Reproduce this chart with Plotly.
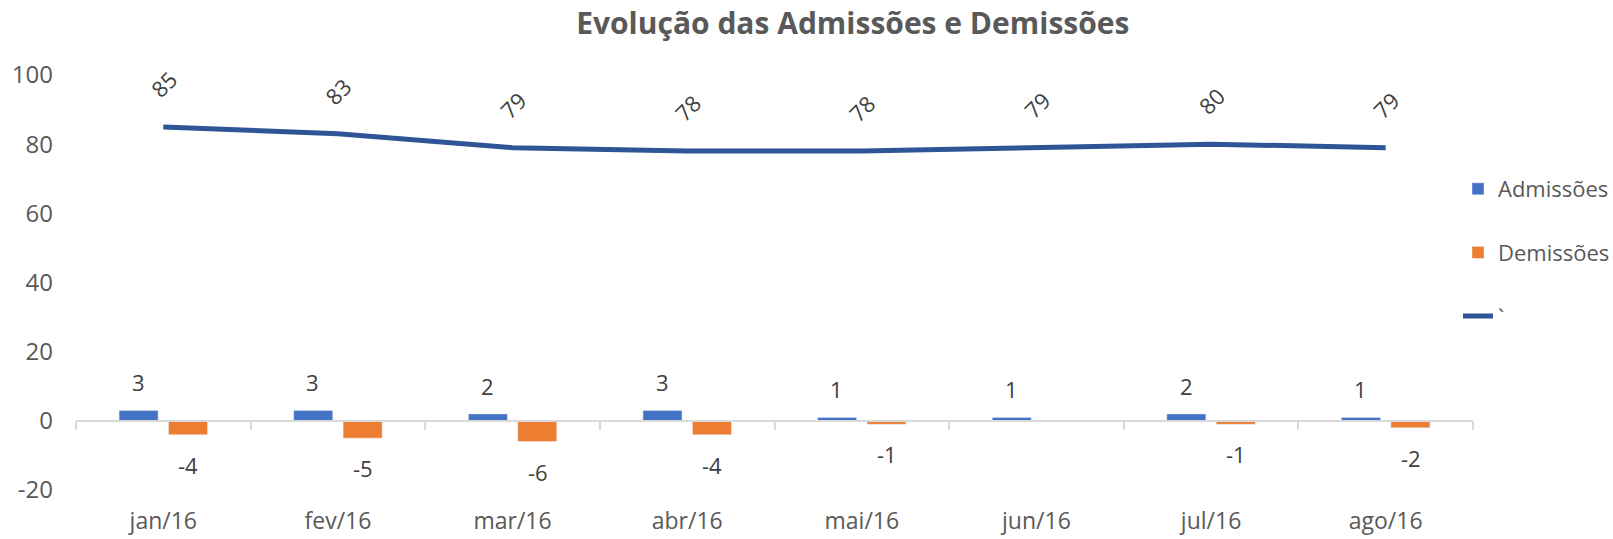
import plotly.graph_objects as go

months = ["jan/16", "fev/16", "mar/16", "abr/16", "mai/16", "jun/16", "jul/16", "ago/16"]
admissoes = [3, 3, 2, 3, 1, 1, 2, 1]
demissoes = [-4, -5, -6, -4, -1, None, -1, -2]
total = [85, 83, 79, 78, 78, 79, 80, 79]
y_ticks = [-20, 0, 20, 40, 60, 80, 100]
y_tick_labels = ["-20", "0", "20", "40", "60", "80", "100"]

FONT = "Open Sans"
C_ADM = "#4472C4"
C_DEM = "#ED7D31"
C_LINE = "#2F5597"
C_TXT = "#404040"
C_AX = "#595959"

W, H = 1613, 539
ML, MR, MT, MB = 76, 140, 75, 49
YMIN, YMAX = -20, 100

fig = go.Figure()
fig.add_trace(go.Bar(x=months, y=admissoes, name="Admissões", marker_color=C_ADM,
                     legendgroup="a"))
fig.add_trace(go.Bar(x=months, y=demissoes, name="Demissões", marker_color=C_DEM,
                     legendgroup="b"))
fig.add_trace(go.Scatter(x=months, y=total, name="`", mode="lines",
                         line=dict(color=C_LINE, width=5), xaxis="x2", yaxis="y",
                         legendgroup="c"))

ann = []
for m, a, d, t in zip(months, admissoes, demissoes, total):
    if a is not None:
        ann.append(dict(x=m, y=a, xref="x", yref="y", text=str(a), showarrow=False,
                        xshift=-25, yshift=28, font=dict(size=22, color=C_TXT, family=FONT)))
    if d is not None:
        ann.append(dict(x=m, y=d, xref="x", yref="y", text=str(d), showarrow=False,
                        xshift=25, yshift=-30, font=dict(size=22, color=C_TXT, family=FONT)))
    ann.append(dict(x=m, y=t, xref="x", yref="y", text=str(t), showarrow=False,
                    yshift=43, textangle=-45, font=dict(size=22, color=C_TXT, family=FONT)))

zero_pos = (0 - YMIN) / (YMAX - YMIN)

fig.update_layout(
    width=W, height=H,
    margin=dict(l=ML, r=MR, t=MT, b=MB, autoexpand=False),
    paper_bgcolor="white", plot_bgcolor="white",
    font=dict(family=FONT, color=C_AX, size=23),
    title=dict(text="<b>Evolução das Admissões e Demissões</b>", x=829 / 1568, xanchor="center",
               xref="container", y=1 - 23 / H, yanchor="middle",
               yref="container", font=dict(size=30, color=C_AX, family=FONT)),
    barmode="group", bargap=0.434, bargroupgap=0.21,
    xaxis=dict(type="category", categoryorder="array", categoryarray=months,
               range=[-0.5, 7.5], showline=False, showgrid=False, zeroline=False,
               ticks="", ticklabelstandoff=15,
               tickfont=dict(size=23, color=C_AX, family=FONT)),
    xaxis2=dict(type="category", categoryorder="array", categoryarray=months,
                range=[-0.5, 7.5], overlaying="x", anchor="free", position=zero_pos,
                side="bottom", showline=True, linecolor="#D9D9D9", linewidth=2,
                ticks="outside", tickson="boundaries", ticklen=8, tickwidth=2,
                tickcolor="#D9D9D9", showticklabels=False, showgrid=False, zeroline=False),
    yaxis=dict(range=[YMIN, YMAX], tickmode="array", tickvals=y_ticks, ticktext=y_tick_labels,
               showgrid=False, zeroline=False,
               showline=False, ticks="", ticklabelstandoff=22,
               tickfont=dict(size=24, color=C_AX, family=FONT)),
    legend=dict(xref="container", yref="container", x=(1498 - 40) / W, xanchor="left",
                y=1 - 168 / H, yanchor="top",
                tracegroupgap=32, font=dict(size=22, color=C_AX, family=FONT),
                bgcolor="rgba(0,0,0,0)"),
    annotations=ann,
)

fig.write_html("out.html", config={"displayModeBar": False},
               post_script="document.body.style.margin='0';document.body.style.overflow='hidden';")
